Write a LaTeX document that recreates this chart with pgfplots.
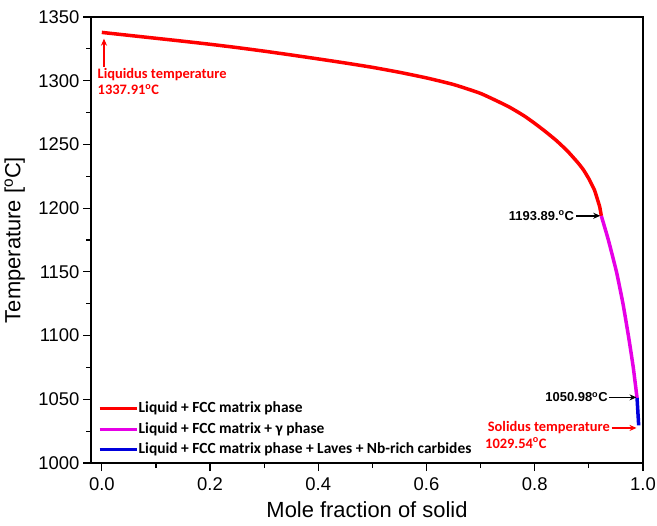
\documentclass[border=0pt]{standalone}
\usepackage{fontspec}
\setmainfont{Liberation Sans}
\newfontfamily\calfont{Carlito}
\usepackage{pgfplots}
\pgfplotsset{compat=1.18}
\usetikzlibrary{arrows.meta}
\definecolor{mymag}{RGB}{230,0,230}
\definecolor{myblue}{RGB}{0,0,220}
\begin{document}
\begin{tikzpicture}
\begin{axis}[
  scale only axis, width=552bp, height=446bp,
  xmin=-0.02, xmax=1.0, ymin=1000, ymax=1350,
  xtick={0,0.2,0.4,0.6,0.8,1.0},
  ytick={1000,1050,1100,1150,1200,1250,1300,1350},
  minor x tick num=1, minor y tick num=1,
  xtick pos=bottom, ytick pos=left, tick align=outside,
  major tick length=8bp, minor tick length=5bp,
  axis line style={line width=1.4bp},
  tick style={line width=1.2bp, black},
  /pgf/number format/assume math mode=true,
  xticklabel style={yshift=-3bp, /pgf/number format/.cd, fixed, fixed zerofill, precision=1},
  yticklabel style={/pgf/number format/1000 sep={}},
  tick label style={font=\fontsize{18.5}{21}\selectfont},
  label style={font=\fontsize{22}{25}\selectfont},
  xlabel={Mole fraction of solid},
  ylabel={Temperature [\textsuperscript{o}C]},
  xlabel style={at={(axis description cs:0.5,-0.105)}, anchor=center},
  ylabel style={at={(axis description cs:-0.138,0.5)}, anchor=center},
  legend style={at={(axis description cs:0.0127,0.013)}, anchor=south west,
    draw=none, fill=none, inner sep=0pt,
    font=\calfont\bfseries\fontsize{15.5}{17}\selectfont,
    row sep=6bp, nodes={inner sep=0.5bp, text height=10.5bp, text depth=3bp}, cells={anchor=west}},
  legend image code/.code={\draw[#1, line width=3bp] (0bp,0bp) -- (37bp,0bp);},
]
\addplot[red, line width=3.5bp, smooth, tension=0.3] coordinates {
(0,1337.91) (0.05,1335.6) (0.1,1333.3) (0.15,1331.0) (0.2,1328.6) (0.25,1326.0)
(0.3,1323.2) (0.35,1320.2) (0.4,1317.1) (0.45,1313.9) (0.5,1310.5) (0.55,1306.6)
(0.6,1302.2) (0.65,1297.0) (0.7,1290.0) (0.75,1280.0) (0.78,1272.5) (0.8,1266.5)
(0.82,1260.0) (0.84,1253.0) (0.86,1245.0) (0.88,1235.5) (0.89,1230.0) (0.90,1223.0)
(0.91,1214.5) (0.915,1208.0) (0.92,1201.0) (0.923,1193.89)
};
\addlegendentry{Liquid + FCC matrix phase}
\addplot[mymag, line width=3.5bp, smooth, tension=0.3] coordinates {
(0.923,1193.89) (0.936,1175) (0.951,1150) (0.963,1125) (0.973,1100) (0.982,1075) (0.989,1050.98)
};
\addlegendentry{Liquid + FCC matrix + γ phase}
\addplot[myblue, line width=3.5bp] coordinates {
(0.989,1050.98) (0.992,1029.54)
};
\addlegendentry{Liquid + FCC matrix phase + Laves + Nb-rich carbides}

\draw[red, line width=1.5bp, -{Stealth[length=7bp,width=6bp]}] (axis cs:0.004,1311) -- (axis cs:0.004,1333);
\node[red, anchor=west, inner sep=0pt, font=\calfont\bfseries\fontsize{14.5}{16}\selectfont] at (axis cs:-0.008,1304.5) {Liquidus temperature};
\node[red, anchor=west, inner sep=0pt, font=\calfont\bfseries\fontsize{14.5}{16}\selectfont] at (axis cs:-0.008,1292.8) {1337.91\textsuperscript{o}C};

\node[black, anchor=east, inner sep=0pt, font=\bfseries\fontsize{13}{15}\selectfont] at (axis cs:0.873,1194) {1193.89.\textsuperscript{o}C};
\draw[black, line width=1.5bp, -{Stealth[length=7bp,width=6bp]}] (axis cs:0.877,1194) -- (axis cs:0.921,1194);

\node[black, anchor=east, inner sep=0pt, font=\bfseries\fontsize{13}{15}\selectfont] at (axis cs:0.935,1051.5) {1050.98\textsuperscript{o}C};
\draw[black, line width=1.5bp, -{Stealth[length=7bp,width=6bp]}] (axis cs:0.938,1051.5) -- (axis cs:0.988,1051.5);

\node[red, anchor=east, inner sep=0pt, font=\calfont\bfseries\fontsize{14.5}{16}\selectfont] at (axis cs:0.939,1027.5) {Solidus temperature};
\node[red, anchor=west, inner sep=0pt, font=\calfont\bfseries\fontsize{14.5}{16}\selectfont] at (axis cs:0.708,1015.7) {1029.54\textsuperscript{o}C};
\draw[red, line width=1.5bp, -{Stealth[length=7bp,width=6bp]}] (axis cs:0.942,1027.5) -- (axis cs:0.988,1027.5);

\coordinate (bl) at (rel axis cs:0,0);
\coordinate (tr) at (rel axis cs:1,1);
\end{axis}
\pgfresetboundingbox
\path ([xshift=-91bp,yshift=-63bp]bl) rectangle ([xshift=14bp,yshift=17bp]tr);
\end{tikzpicture}
\end{document}
